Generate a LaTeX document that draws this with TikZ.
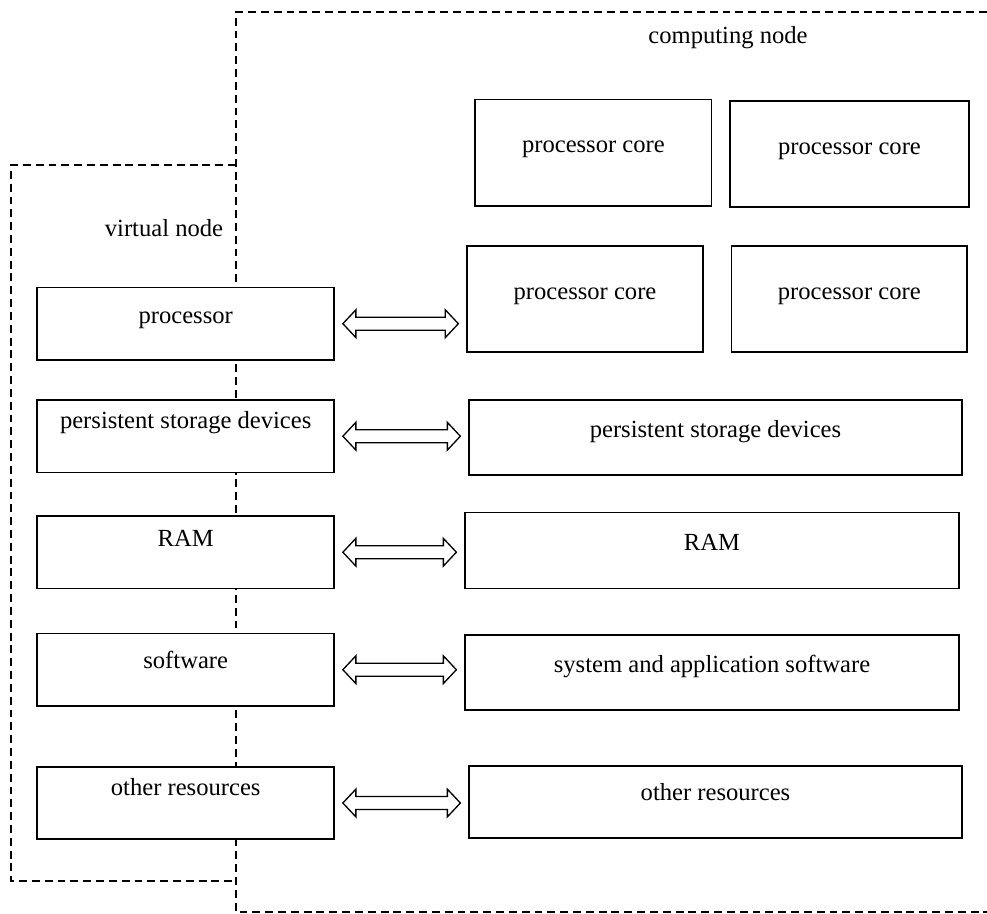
\documentclass[tikz,border=0pt]{standalone}
\usepackage{fontspec}
\setmainfont{Liberation Serif}
\usetikzlibrary{calc}

\tikzset{
	box/.style={draw, fill=white, line width=0.9pt, text height=10pt, text depth=#1, inner sep=0pt},
	box/.default=10pt,
	frame/.style={line width=0.75pt, dash pattern=on 4.5pt off 2.8pt},
	link/.style={draw, line width=0.75pt, to path={let \p1=(\tikztostart), \p2=(\tikztotarget) in
		(\x1+4.5pt,\y1) -- (\x1+11.9pt,\y1+7.9pt) -- (\x1+11.9pt,\y1+3.7pt) -- (\x2-11.9pt,\y1+3.7pt)
		-- (\x2-11.9pt,\y1+7.9pt) -- (\x2-4.5pt,\y1) -- (\x2-11.9pt,\y1-7.9pt) -- (\x2-11.9pt,\y1-3.7pt)
		-- (\x1+11.9pt,\y1-3.7pt) -- (\x1+11.9pt,\y1-7.9pt) -- cycle}}
}

\begin{document}
\begin{tikzpicture}[x=0.02cm, y=-0.02cm, every node/.style={font=\fontsize{14}{17}\selectfont}]
			\useasboundingbox (0,0) rectangle (987,913);

			% Frames
			\draw[frame] (987,12) -- (236,12) -- (236,912) -- (987,912);
			\draw[frame] (236,165) -- (11,165) -- (11,881) -- (236,881);
			\node[anchor=base] (comp) at (728,43) {computing node};
			\node[anchor=base] (virt) at (164,236) {virtual node};

			% Nodes (virtual node)
			\node[box, minimum width=5.94cm, minimum height=1.45cm] (proc) at (185.7,323.7) {processor};
			\node[box=19pt, minimum width=5.94cm, minimum height=1.45cm] (pstl) at (185.7,436.2) {persistent storage devices};
			\node[box=16pt, minimum width=5.94cm, minimum height=1.45cm] (raml) at (185.7,552.2) {RAM};
			\node[box=11.5pt, minimum width=5.94cm, minimum height=1.45cm] (softl) at (185.7,669.7) {software};
			\node[box=19pt, minimum width=5.94cm, minimum height=1.44cm] (othl) at (185.7,803) {other resources};

			% Nodes (computing node)
			\node[box, minimum width=4.73cm, minimum height=2.13cm] (core1) at (593.4,152.7) {processor core};
			\node[box, minimum width=4.78cm, minimum height=2.13cm] (core2) at (849.5,154) {processor core};
			\node[box, minimum width=4.72cm, minimum height=2.13cm] (core3) at (585,299) {processor core};
			\node[box, minimum width=4.71cm, minimum height=2.13cm] (core4) at (849.3,299) {processor core};
			\node[box, minimum width=9.86cm, minimum height=1.5cm] (pstr) at (715.5,437.5) {persistent storage devices};
			\node[box, minimum width=9.88cm, minimum height=1.52cm] (ramr) at (712,550.3) {RAM};
			\node[box, minimum width=9.88cm, minimum height=1.5cm] (softr) at (712,672.5) {system and application software};
			\node[box=12pt, minimum width=9.86cm, minimum height=1.44cm] (othr) at (715.5,802) {other resources};

			% Edges
			\draw[link] (proc.east) to (proc.east -| core3.west);
			\draw[link] (pstl.east) to (pstl.east -| pstr.west);
			\draw[link] (raml.east) to (raml.east -| ramr.west);
			\draw[link] (softl.east) to (softl.east -| softr.west);
			\draw[link] (othl.east) to (othl.east -| othr.west);
		\end{tikzpicture}
\end{document}
